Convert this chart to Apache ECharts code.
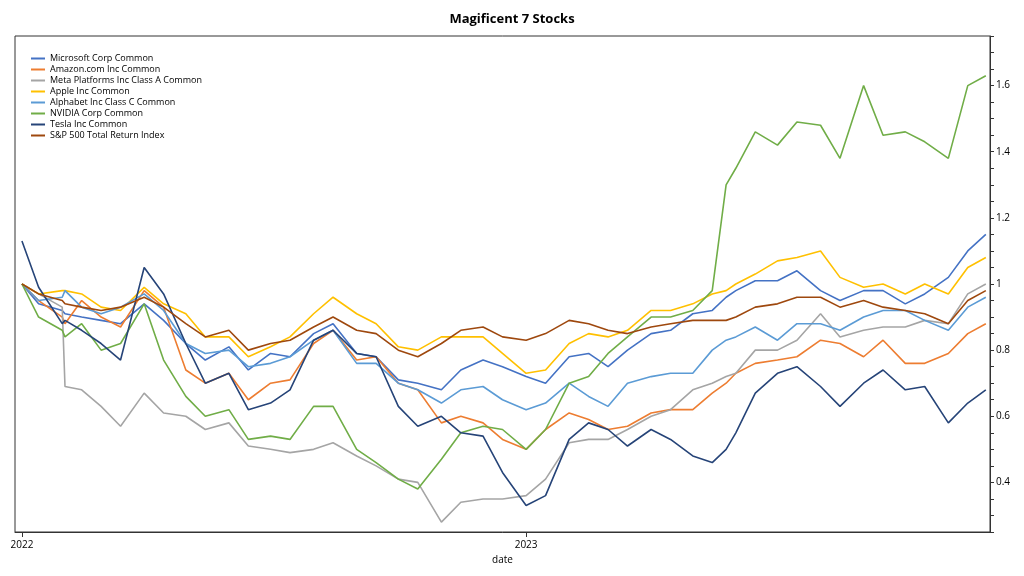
<!DOCTYPE html>
<html><head><meta charset="utf-8">
<script src="https://cdn.jsdelivr.net/npm/echarts@6/dist/echarts.min.js"></script>
<style>html,body{margin:0;padding:0;background:#fff}#c{width:1024px;height:576px}</style>
</head><body><div id="c"></div>
<script>
const dates = ['2022-01-03','2022-01-15','2022-02-01','2022-02-03','2022-02-15','2022-03-01','2022-03-15','2022-04-01','2022-04-15','2022-05-01','2022-05-15','2022-06-01','2022-06-15','2022-07-01','2022-07-15','2022-08-01','2022-08-15','2022-09-01','2022-09-15','2022-10-01','2022-10-15','2022-11-01','2022-11-15','2022-12-01','2022-12-15','2023-01-01','2023-01-15','2023-02-01','2023-02-15','2023-03-01','2023-03-15','2023-04-01','2023-04-15','2023-05-01','2023-05-15','2023-05-25','2023-06-01','2023-06-15','2023-07-01','2023-07-15','2023-08-01','2023-08-15','2023-09-01','2023-09-15','2023-10-01','2023-10-15','2023-11-01','2023-11-15','2023-11-28'];
const yearTicks = ['2022-01-03','2023-01-01'];
const names = ['Microsoft Corp Common','Amazon.com Inc Common','Meta Platforms Inc Class A Common','Apple Inc Common','Alphabet Inc Class C Common','NVIDIA Corp Common','Tesla Inc Common','S&P 500 Total Return Index'];
const colors = ['#4472c4','#ed7d31','#a5a5a5','#ffc000','#5b9bd5','#70ad47','#264478','#9e480e'];
const msft = [1.0,0.94,0.92,0.91,0.90,0.89,0.88,0.94,0.89,0.82,0.77,0.81,0.74,0.79,0.78,0.85,0.88,0.79,0.78,0.71,0.70,0.68,0.74,0.77,0.75,0.72,0.70,0.78,0.79,0.75,0.80,0.85,0.86,0.91,0.92,0.96,0.98,1.01,1.01,1.04,0.98,0.95,0.98,0.98,0.94,0.97,1.02,1.10,1.15];
const amzn = [1.0,0.95,0.90,0.88,0.95,0.90,0.87,0.98,0.93,0.74,0.70,0.73,0.65,0.70,0.71,0.82,0.86,0.77,0.78,0.70,0.68,0.58,0.60,0.58,0.53,0.50,0.56,0.61,0.59,0.56,0.57,0.61,0.62,0.62,0.67,0.70,0.73,0.76,0.77,0.78,0.83,0.82,0.78,0.83,0.76,0.76,0.79,0.85,0.88];
const meta = [1.0,0.97,0.93,0.69,0.68,0.63,0.57,0.67,0.61,0.60,0.56,0.58,0.51,0.50,0.49,0.50,0.52,0.48,0.45,0.41,0.40,0.28,0.34,0.35,0.35,0.36,0.41,0.52,0.53,0.53,0.56,0.60,0.62,0.68,0.70,0.72,0.73,0.80,0.80,0.83,0.91,0.84,0.86,0.87,0.87,0.89,0.88,0.97,1.0];
const aapl = [1.0,0.97,0.98,0.98,0.97,0.93,0.92,0.99,0.94,0.91,0.84,0.84,0.78,0.81,0.84,0.91,0.96,0.91,0.88,0.81,0.80,0.84,0.84,0.84,0.79,0.73,0.74,0.82,0.85,0.84,0.86,0.92,0.92,0.94,0.97,0.98,1.0,1.03,1.07,1.08,1.10,1.02,0.99,1.0,0.97,1.0,0.97,1.05,1.08];
const goog = [1.0,0.95,0.96,0.98,0.93,0.91,0.93,0.97,0.92,0.82,0.79,0.80,0.75,0.76,0.78,0.83,0.86,0.76,0.76,0.70,0.68,0.64,0.68,0.69,0.65,0.62,0.64,0.70,0.66,0.63,0.70,0.72,0.73,0.73,0.80,0.83,0.84,0.87,0.83,0.88,0.88,0.86,0.90,0.92,0.92,0.89,0.86,0.93,0.96];
const nvda = [1.0,0.90,0.86,0.84,0.88,0.80,0.82,0.94,0.77,0.66,0.60,0.62,0.53,0.54,0.53,0.63,0.63,0.50,0.46,0.41,0.38,0.47,0.55,0.57,0.56,0.50,0.56,0.70,0.72,0.79,0.84,0.90,0.90,0.92,0.98,1.30,1.35,1.46,1.42,1.49,1.48,1.38,1.60,1.45,1.46,1.43,1.38,1.60,1.63];
const tsla = [1.13,0.99,0.88,0.89,0.86,0.82,0.77,1.05,0.97,0.82,0.70,0.73,0.62,0.64,0.68,0.83,0.86,0.79,0.78,0.63,0.57,0.60,0.55,0.54,0.43,0.33,0.36,0.53,0.58,0.56,0.51,0.56,0.53,0.48,0.46,0.50,0.55,0.67,0.73,0.75,0.69,0.63,0.70,0.74,0.68,0.69,0.58,0.64,0.68];
const spx = [1.0,0.97,0.95,0.94,0.93,0.92,0.93,0.96,0.93,0.88,0.84,0.86,0.80,0.82,0.83,0.87,0.90,0.86,0.85,0.80,0.78,0.82,0.86,0.87,0.84,0.83,0.85,0.89,0.88,0.86,0.85,0.87,0.88,0.89,0.89,0.89,0.90,0.93,0.94,0.96,0.96,0.93,0.95,0.93,0.92,0.91,0.88,0.95,0.98];
const seriesData = [msft,amzn,meta,aapl,goog,nvda,tsla,spx];
const ts = d => Date.parse(d+'T00:00:00Z');
const font = 'Open Sans';
const tickVals = yearTicks.map(ts);
const chart = echarts.init(document.getElementById('c'));
chart.setOption({
  animation:false,
  title:{text:'Magificent 7 Stocks',left:'center',top:8,textStyle:{fontFamily:font,fontSize:13,fontWeight:'bold',color:'#000'}},
  legend:{orient:'vertical',left:26,top:49,itemGap:2,itemWidth:14,itemHeight:2,icon:'rect',
    textStyle:{fontFamily:font,fontSize:9,color:'#000'},data:names},
  grid:{left:15,right:34,top:36,bottom:44,show:true,borderColor:'#333',borderWidth:1},
  xAxis:{type:'value',min:ts('2021-12-29'),max:ts('2023-12-01'),name:'date',nameLocation:'middle',nameGap:16,
    nameTextStyle:{fontFamily:font,fontSize:10,color:'#000'},
    axisLine:{lineStyle:{color:'#333'}},splitLine:{show:false},
    axisTick:{customValues:tickVals,length:5,lineStyle:{color:'#333'}},
    axisLabel:{customValues:tickVals,formatter:v=>String(new Date(v).getUTCFullYear()),
      fontFamily:font,fontSize:10,color:'#000',margin:8}},
  yAxis:{type:'value',position:'right',min:0.25,max:1.75,interval:0.05,
    axisLine:{show:true,lineStyle:{color:'#333'}},splitLine:{show:false},
    axisTick:{show:true,length:4,lineStyle:{color:'#333'}},
    axisLabel:{fontFamily:font,fontSize:10,color:'#000',margin:6,formatter:v=>{
      const k=Math.round(v*100); if(k%20===0&&k>=40&&k<=160) return k===100?'1':(k/100).toString(); return '';}}},
  series:names.map((n,i)=>({name:n,type:'line',showSymbol:false,symbol:'none',color:colors[i],
    lineStyle:{width:1.6,color:colors[i]},
    data:dates.map((d,j)=>[ts(d),seriesData[i][j]])}))
});
</script></body></html>
